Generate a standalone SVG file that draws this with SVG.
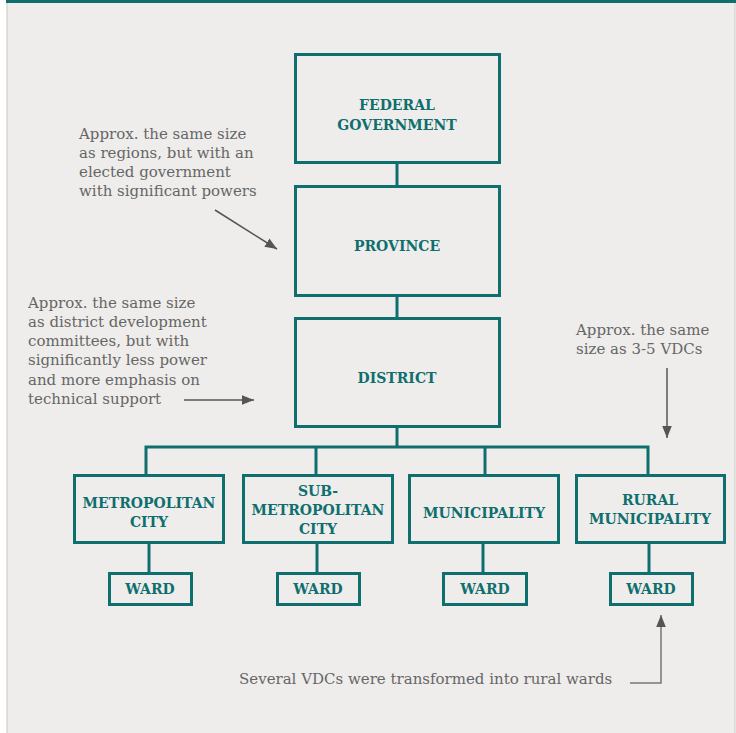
<svg xmlns="http://www.w3.org/2000/svg" width="736" height="733" viewBox="0 0 736 733">
<defs>
<style>
.node{fill:none;stroke:#0f6e6e;stroke-width:3}
.lbl{font-family:"DejaVu Serif","Liberation Serif",serif;font-weight:bold;font-size:14px;fill:#0f6e6e;text-anchor:middle}
.note{font-family:"DejaVu Serif","Liberation Serif",serif;font-size:15px;fill:#666}
.conn{fill:none;stroke:#0f6e6e;stroke-width:3}
.arr{fill:none;stroke:#555;stroke-width:1.5}
</style>
<marker id="ah" viewBox="0 0 10 10" refX="10" refY="5" markerWidth="8" markerHeight="8" markerUnits="strokeWidth" orient="auto">
<path d="M0,1 L10,5 L0,9 z" fill="#555"/>
</marker>
</defs>
<rect x="0" y="0" width="736" height="733" fill="#ffffff"/>
<rect x="7" y="0" width="728" height="740" fill="#eeedeb" stroke="#c8c8c8" stroke-width="1"/>
<rect x="6" y="0" width="730" height="3" fill="#0f6e6e"/>
<g id="connectors">
<line class="conn" x1="397" y1="163" x2="397" y2="186"/>
<line class="conn" x1="397" y1="296" x2="397" y2="318"/>
<line class="conn" x1="397" y1="427" x2="397" y2="447"/>
<polyline class="conn" points="146,475 146,447 648,447 648,475"/>
<line class="conn" x1="316" y1="447" x2="316" y2="475"/>
<line class="conn" x1="485" y1="447" x2="485" y2="475"/>
<line class="conn" x1="149" y1="543" x2="149" y2="573"/>
<line class="conn" x1="317" y1="543" x2="317" y2="573"/>
<line class="conn" x1="483" y1="543" x2="483" y2="573"/>
<line class="conn" x1="649" y1="543" x2="649" y2="573"/>
</g>
<g id="federal"><rect class="node" x="295.5" y="54.5" width="204" height="108"/><text class="lbl" x="397" y="110">FEDERAL</text><text class="lbl" x="397" y="130">GOVERNMENT</text></g>
<g id="province"><rect class="node" x="295.5" y="186.5" width="204" height="109"/><text class="lbl" x="397" y="251">PROVINCE</text></g>
<g id="district"><rect class="node" x="295.5" y="318.5" width="204" height="108"/><text class="lbl" x="397" y="383">DISTRICT</text></g>
<g id="metro"><rect class="node" x="74.5" y="475.5" width="149" height="67"/><text class="lbl" x="149" y="508">METROPOLITAN</text><text class="lbl" x="149" y="527">CITY</text></g>
<g id="submetro"><rect class="node" x="243.5" y="475.5" width="149" height="67"/><text class="lbl" x="318" y="496">SUB-</text><text class="lbl" x="318" y="515">METROPOLITAN</text><text class="lbl" x="318" y="534">CITY</text></g>
<g id="municipality"><rect class="node" x="409.5" y="475.5" width="149" height="67"/><text class="lbl" x="484" y="518">MUNICIPALITY</text></g>
<g id="rural"><rect class="node" x="576.5" y="475.5" width="148" height="67"/><text class="lbl" x="650" y="505">RURAL</text><text class="lbl" x="650" y="524">MUNICIPALITY</text></g>
<g id="ward1"><rect class="node" x="109.5" y="573.5" width="82" height="31"/><text class="lbl" x="150" y="594">WARD</text></g>
<g id="ward2"><rect class="node" x="277.5" y="573.5" width="82" height="31"/><text class="lbl" x="318" y="594">WARD</text></g>
<g id="ward3"><rect class="node" x="443.5" y="573.5" width="83" height="31"/><text class="lbl" x="485" y="594">WARD</text></g>
<g id="ward4"><rect class="node" x="610.5" y="573.5" width="82" height="31"/><text class="lbl" x="651" y="594">WARD</text></g>
<g id="notes">
<text class="note"><tspan x="79" y="139">Approx. the same size</tspan><tspan x="79" y="158">as regions, but with an</tspan><tspan x="79" y="177">elected government</tspan><tspan x="79" y="196">with significant powers</tspan></text>
<line class="arr" x1="215" y1="210" x2="277" y2="249" marker-end="url(#ah)"/>
<text class="note"><tspan x="28" y="308">Approx. the same size</tspan><tspan x="28" y="327">as district development</tspan><tspan x="28" y="346">committees, but with</tspan><tspan x="28" y="365">significantly less power</tspan><tspan x="28" y="385">and more emphasis on</tspan><tspan x="28" y="404">technical support</tspan></text>
<line class="arr" x1="184" y1="400" x2="254" y2="400" marker-end="url(#ah)"/>
<text class="note"><tspan x="576" y="335">Approx. the same</tspan><tspan x="576" y="354">size as 3-5 VDCs</tspan></text>
<line class="arr" x1="667" y1="368" x2="667" y2="438" marker-end="url(#ah)"/>
<text class="note" x="239" y="684">Several VDCs were transformed into rural wards</text>
<polyline fill="none" stroke="#777" stroke-width="1.5" points="630,683 661,683 661,615" marker-end="url(#ah)"/>
</g>
</svg>
